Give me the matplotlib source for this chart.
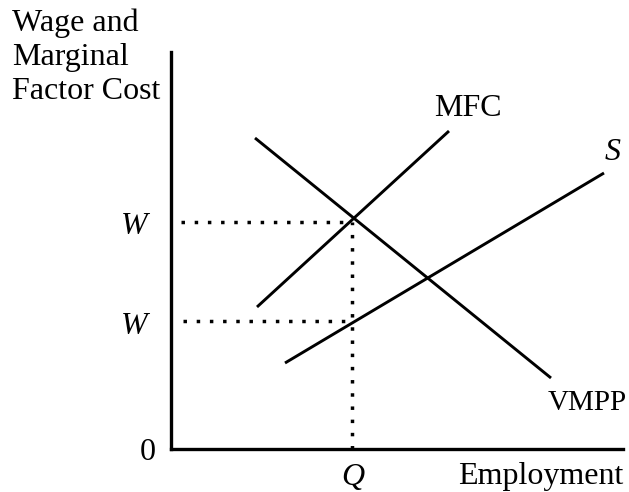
import matplotlib
matplotlib.use("Agg")
import matplotlib.pyplot as plt

# Coordinates in pixel-like units measured from the axes corner
mfc_x = [86, 278]
mfc_y = [142, 318]
vmpp_x = [84, 380]
vmpp_y = [311, 71]
s_x = [114, 433]
s_y = [86, 276]

w_high = 227
w_low = 128
q_emp = 181

plt.rcParams["font.family"] = ["Liberation Serif", "DejaVu Serif"]

fig = plt.figure(figsize=(6.29, 4.92), dpi=100)
ax = fig.add_axes([171 / 629, 43 / 492, 452 / 629, 397 / 492])
ax.set_xlim(0, 452)
ax.set_ylim(0, 397)

lw = 2.1
ax.plot(mfc_x, mfc_y, color="black", lw=lw, solid_capstyle="butt")
ax.plot(vmpp_x, vmpp_y, color="black", lw=lw, solid_capstyle="butt")
ax.plot(s_x, s_y, color="black", lw=lw, solid_capstyle="butt")

dot = dict(color="black", lw=2.5, linestyle=(0, (1, 2.8)), dash_capstyle="butt")
ax.plot([10, q_emp], [w_high, w_high], **dot)
ax.plot([12, q_emp], [w_low, w_low], **dot)
ax.plot([q_emp, q_emp], [0, w_high], **dot)

for side in ["top", "right"]:
    ax.spines[side].set_visible(False)
for side in ["left", "bottom"]:
    ax.spines[side].set_linewidth(2.4)
ax.set_xticks([])
ax.set_yticks([])

fs = 23
ax.text(-37, w_high - 4, "W", style="italic", fontsize=fs, ha="center", va="center", clip_on=False)
ax.text(-37, w_low - 5, "W", style="italic", fontsize=fs, ha="center", va="center", clip_on=False)
ax.text(-23, -3, "0", fontsize=fs, ha="center", va="center", clip_on=False)
ax.text(q_emp + 1, -28, "Q", style="italic", fontsize=fs, ha="center", va="center", clip_on=False)
ax.text(452, -35, "Employment", fontsize=fs, ha="right", va="baseline", clip_on=False)
ax.text(297, 333, "MFC", fontsize=fs, ha="center", va="baseline", clip_on=False)
ax.text(442, 296, "S", style="italic", fontsize=fs, ha="center", va="center", clip_on=False)
ax.text(416, 39, "VMPP", fontsize=21, ha="center", va="baseline", clip_on=False)

fig.text(12 / 629, 1 - 9 / 492, "Wage and\nMarginal\nFactor Cost", fontsize=fs,
         ha="left", va="top", linespacing=1.22)

fig.savefig("out.png", dpi=100)
